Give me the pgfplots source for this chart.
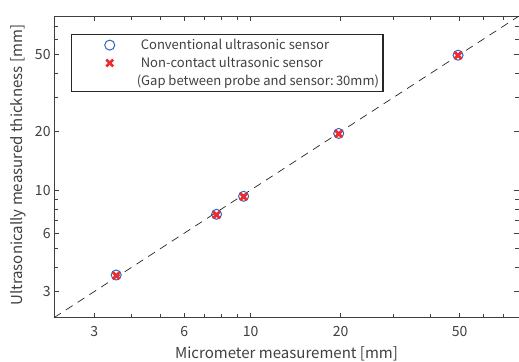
\documentclass[border=0pt]{standalone}
\usepackage{pgfplots}
\pgfplotsset{compat=1.18}
\usepackage{fontspec}
\setmainfont{Noto Sans CJK JP}
\definecolor{txt}{RGB}{64,64,64}
\definecolor{cblue}{RGB}{50,100,190}
\definecolor{cred}{RGB}{235,45,50}
\pgfplotsset{myleg/.style={legend image code/.code={\path[draw=none,fill=none] (0pt,-5pt) rectangle (65pt,5pt); \draw[##1, only marks] plot coordinates {(36pt,0pt)};}}}
\begin{document}
\begin{tikzpicture}
\begin{axis}[
  scale only axis, width=464pt, height=301pt,
  xmode=log, ymode=log,
  xmin=2.2, xmax=79, ymin=2.2, ymax=79,
  xtick={3,6,10,20,50}, ytick={3,6,10,20,50},
  xticklabels={3,6,10,20,50}, yticklabels={3,6,10,20,50},
  minor xtick={4,5,7,8,9,30,40,60,70},
  minor ytick={4,5,7,8,9,30,40,60,70},
  tick align=inside, major tick length=5pt, minor tick length=4pt,
  tick style={txt, line width=0.6pt},
  axis line style={txt, line width=0.8pt},
  font=\fontsize{13}{15}\selectfont,
  tick label style={txt, font=\fontsize{14}{16}\selectfont},
  xticklabel style={yshift=-5pt},
  /pgf/number format/assume math mode=true,
  xlabel={Micrometer measurement [mm]},
  ylabel={Ultrasonically measured thickness [mm]},
  xlabel style={txt, font=\fontsize{15}{17}\selectfont, at={(axis description cs:0.5,-0.1196)}, anchor=center},
  ylabel style={txt, font=\fontsize{15}{17}\selectfont, at={(axis description cs:-0.0776,0.505)}, anchor=center},
  legend style={at={(axis description cs:0.0366,0.94)}, anchor=north west,
    draw=black!85, line width=1.1pt, font=\fontsize{13}{15}\selectfont, text=txt,
    inner xsep=2pt, inner ysep=2.5pt, row sep=2pt,
    legend cell align=left},
]
\addplot[black!85, dash pattern=on 8pt off 6pt, line width=0.7pt, forget plot] coordinates {(2.2,2.2) (79,79)};
\addplot[only marks, mark=o, mark size=5pt, cblue, line width=1pt, myleg] coordinates {
(3.55,3.65) (7.69,7.50) (9.47,9.29) (19.7,19.6) (49.4,49.6)};
\addlegendentry{Conventional ultrasonic sensor}
\addplot[only marks, mark=x, mark size=4.8pt, cred, line width=2.8pt, myleg] coordinates {
(3.55,3.62) (7.69,7.45) (9.47,9.25) (19.7,19.5) (49.4,49.5)};
\addlegendentry{Non-contact ultrasonic sensor}
\addlegendimage{empty legend}
\addlegendentry{\hspace{-4pt}(Gap between probe and sensor:\,30mm)}
\end{axis}
\pgfresetboundingbox
\path (current axis.south west) ++(-54pt,-44pt) coordinate (bl);
\path (current axis.north east) ++(0pt,16pt) coordinate (tr);
\path[use as bounding box] (bl) rectangle (tr);
\end{tikzpicture}
\end{document}
